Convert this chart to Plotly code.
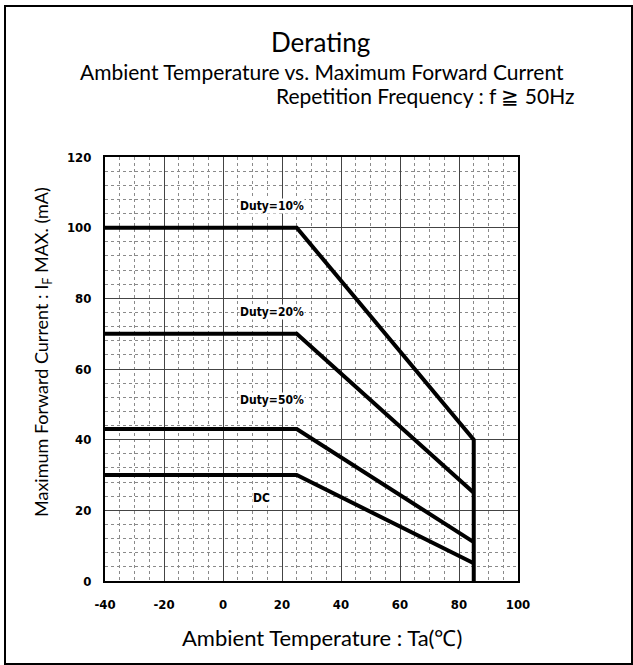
import plotly.graph_objects as go

# ---- data ----
temp_duty10 = [-40, 25, 85, 85]
curr_duty10 = [100, 100, 40, 0]
temp_duty20 = [-40, 25, 85]
curr_duty20 = [70, 70, 25]
temp_duty50 = [-40, 25, 85]
curr_duty50 = [43, 43, 11]
temp_dc = [-40, 25, 85]
curr_dc = [30, 30, 5]

label_text = ["Duty=10%", "Duty=20%", "Duty=50%", "DC"]
label_x = [16.6, 16.6, 16.6, 13.2]
label_y = [106, 76, 51.3, 23.5]

x_ticks = [-40, -20, 0, 20, 40, 60, 80, 100]
y_ticks = [0, 20, 40, 60, 80, 100, 120]

W, H = 633, 665
L, R, T, B = 105, 518, 157, 581  # plot area in pixels


def px(xpix):
    return (xpix - L) / (R - L)


def py(ypix):
    return (B - ypix) / (B - T)


fig = go.Figure()
for tx, cy in [(temp_duty10, curr_duty10), (temp_duty20, curr_duty20),
               (temp_duty50, curr_duty50), (temp_dc, curr_dc)]:
    fig.add_trace(go.Scatter(x=tx, y=cy, mode="lines",
                             line=dict(color="black", width=4),
                             showlegend=False, hoverinfo="skip", cliponaxis=False))

cond_family = "DejaVu Sans Condensed, Liberation Sans Narrow, Arial Narrow, DejaVu Sans, sans-serif"
tick_font = dict(family=cond_family, size=13, color="black", weight="bold")
title_family = "Lato, Open Sans, sans-serif"

annotations = []
for t, x, y in zip(label_text, label_x, label_y):
    annotations.append(dict(x=x, y=y, xref="x", yref="y", text=t, showarrow=False,
                            font=dict(family=cond_family, size=12, color="black",
                                      weight="bold"),
                            bgcolor="white", borderpad=0))

annotations += [
    dict(x=px(320), y=py(42), xref="paper", yref="paper", text="Derating",
         showarrow=False, xanchor="center", yanchor="middle",
         font=dict(family=title_family, size=26, color="black")),
    dict(x=px(322), y=py(71), xref="paper", yref="paper",
         text="Ambient Temperature vs. Maximum Forward Current",
         showarrow=False, xanchor="center", yanchor="middle",
         font=dict(family=title_family, size=21, color="black")),
    dict(x=px(577), y=py(95), xref="paper", yref="paper",
         text="Repetition Frequency : f \u2267 50Hz",
         showarrow=False, xanchor="right", yanchor="middle",
         font=dict(family=title_family, size=21, color="black")),
    dict(x=px(322), y=py(637), xref="paper", yref="paper",
         text="Ambient Temperature : Ta(\u2103)",
         showarrow=False, xanchor="center", yanchor="middle",
         font=dict(family=title_family, size=22, color="black")),
    dict(x=px(42), y=py(352), xref="paper", yref="paper",
         text="Maximum Forward Current : I<sub>F</sub> MAX. (mA)",
         showarrow=False, xanchor="center", yanchor="middle", textangle=-90,
         font=dict(family=title_family, size=18, color="black")),
]

shapes = [
    dict(type="rect", xref="paper", yref="paper",
         x0=px(5), x1=px(632), y0=py(664), y1=py(6),
         line=dict(color="black", width=2), fillcolor="rgba(0,0,0,0)", layer="below"),
]

axis_common = dict(
    showline=True, linecolor="black", linewidth=2, mirror=True,
    showgrid=True, gridcolor="#444444", gridwidth=1,
    zeroline=False, ticks="", tickfont=tick_font,
)

fig.update_layout(
    width=W, height=H,
    margin=dict(l=L, r=W - R, t=T, b=H - B, pad=0),
    paper_bgcolor="white", plot_bgcolor="white",
    showlegend=False,
    annotations=annotations,
    shapes=shapes,
    xaxis=dict(range=[-40, 100], tickvals=x_ticks, ticktext=[str(v) for v in x_ticks],
               ticklabelstandoff=10,
               minor=dict(dtick=5, tick0=-40, showgrid=True, gridcolor="#8a8a8a",
                          griddash="dot", gridwidth=1),
               **axis_common),
    yaxis=dict(range=[0, 120], tickvals=y_ticks, ticktext=[str(v) for v in y_ticks],
               ticklabelstandoff=9,
               minor=dict(dtick=4, tick0=0, showgrid=True, gridcolor="#8a8a8a",
                          griddash="dot", gridwidth=1),
               **axis_common),
)

fig.write_html("out.html",
               config={"displayModeBar": False},
               post_script="document.body.style.margin='0';document.body.style.overflow='hidden';")
